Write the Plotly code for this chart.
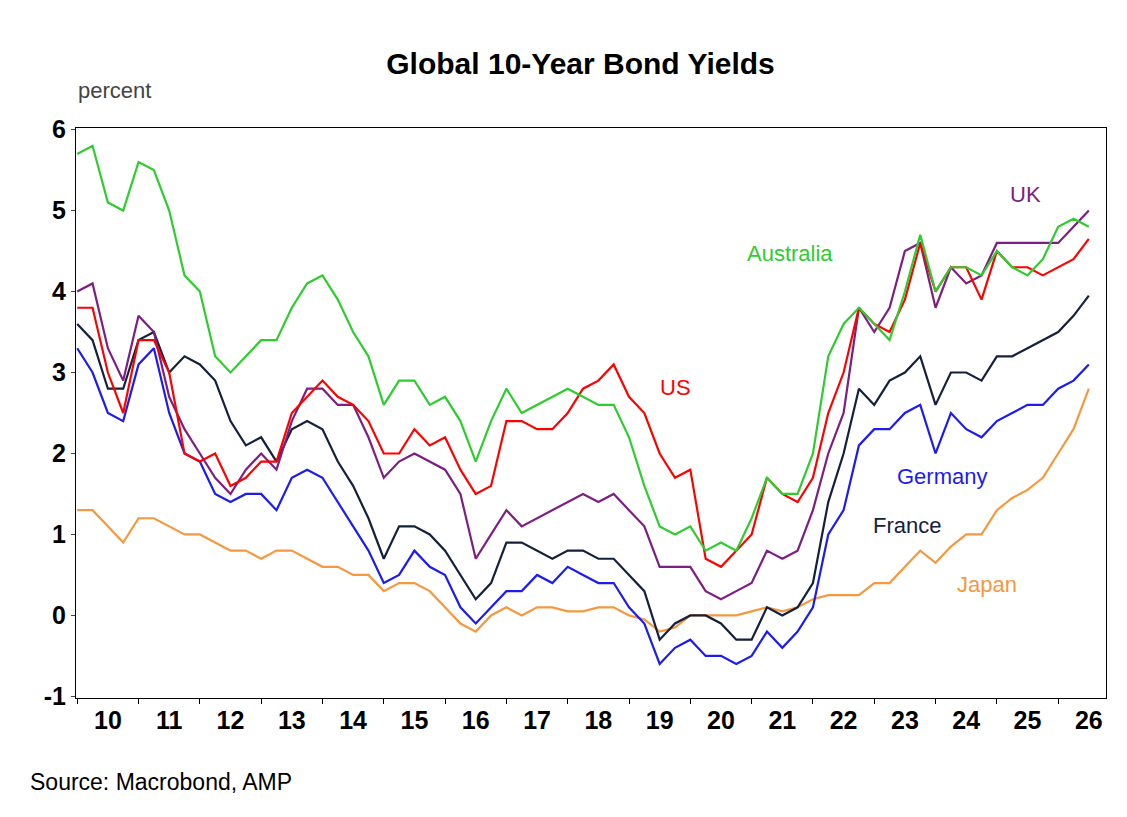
import plotly.graph_objects as go

# quarterly dates, 2010.0 .. 2026.5
dates = [2010 + 0.25 * i for i in range(67)]

australia = [5.7, 5.8, 5.1, 5.0, 5.6, 5.5, 5.0, 4.2, 4.0, 3.2, 3.0, 3.2, 3.4, 3.4, 3.8, 4.1,
             4.2, 3.9, 3.5, 3.2, 2.6, 2.9, 2.9, 2.6, 2.7, 2.4, 1.9, 2.4, 2.8, 2.5, 2.6, 2.7,
             2.8, 2.7, 2.6, 2.6, 2.2, 1.6, 1.1, 1.0, 1.1, 0.8, 0.9, 0.8, 1.2, 1.7, 1.5, 1.5,
             2.0, 3.2, 3.6, 3.8, 3.6, 3.4, 4.0, 4.7, 4.0, 4.3, 4.3, 4.2, 4.5, 4.3, 4.2, 4.4,
             4.8, 4.9, 4.8]
us = [3.8, 3.8, 3.0, 2.5, 3.4, 3.4, 3.0, 2.0, 1.9, 2.0, 1.6, 1.7, 1.9, 1.9, 2.5, 2.7,
      2.9, 2.7, 2.6, 2.4, 2.0, 2.0, 2.3, 2.1, 2.2, 1.8, 1.5, 1.6, 2.4, 2.4, 2.3, 2.3,
      2.5, 2.8, 2.9, 3.1, 2.7, 2.5, 2.0, 1.7, 1.8, 0.7, 0.6, 0.8, 1.0, 1.7, 1.5, 1.4,
      1.7, 2.5, 3.0, 3.8, 3.6, 3.5, 3.9, 4.6, 4.0, 4.3, 4.3, 3.9, 4.5, 4.3, 4.3, 4.2,
      4.3, 4.4, 4.65]
uk = [4.0, 4.1, 3.3, 2.9, 3.7, 3.5, 2.7, 2.3, 2.0, 1.7, 1.5, 1.8, 2.0, 1.8, 2.4, 2.8,
      2.8, 2.6, 2.6, 2.2, 1.7, 1.9, 2.0, 1.9, 1.8, 1.5, 0.7, 1.0, 1.3, 1.1, 1.2, 1.3,
      1.4, 1.5, 1.4, 1.5, 1.3, 1.1, 0.6, 0.6, 0.6, 0.3, 0.2, 0.3, 0.4, 0.8, 0.7, 0.8,
      1.3, 2.0, 2.5, 3.8, 3.5, 3.8, 4.5, 4.6, 3.8, 4.3, 4.1, 4.2, 4.6, 4.6, 4.6, 4.6,
      4.6, 4.8, 5.0]
france = [3.6, 3.4, 2.8, 2.8, 3.4, 3.5, 3.0, 3.2, 3.1, 2.9, 2.4, 2.1, 2.2, 1.9, 2.3, 2.4,
          2.3, 1.9, 1.6, 1.2, 0.7, 1.1, 1.1, 1.0, 0.8, 0.5, 0.2, 0.4, 0.9, 0.9, 0.8, 0.7,
          0.8, 0.8, 0.7, 0.7, 0.5, 0.3, -0.3, -0.1, 0.0, 0.0, -0.1, -0.3, -0.3, 0.1, 0.0, 0.1,
          0.4, 1.4, 2.0, 2.8, 2.6, 2.9, 3.0, 3.2, 2.6, 3.0, 3.0, 2.9, 3.2, 3.2, 3.3, 3.4,
          3.5, 3.7, 3.95]
germany = [3.3, 3.0, 2.5, 2.4, 3.1, 3.3, 2.5, 2.0, 1.9, 1.5, 1.4, 1.5, 1.5, 1.3, 1.7, 1.8,
           1.7, 1.4, 1.1, 0.8, 0.4, 0.5, 0.8, 0.6, 0.5, 0.1, -0.1, 0.1, 0.3, 0.3, 0.5, 0.4,
           0.6, 0.5, 0.4, 0.4, 0.1, -0.1, -0.6, -0.4, -0.3, -0.5, -0.5, -0.6, -0.5, -0.2, -0.4, -0.2,
           0.1, 1.0, 1.3, 2.1, 2.3, 2.3, 2.5, 2.6, 2.0, 2.5, 2.3, 2.2, 2.4, 2.5, 2.6, 2.6,
           2.8, 2.9, 3.1]
japan = [1.3, 1.3, 1.1, 0.9, 1.2, 1.2, 1.1, 1.0, 1.0, 0.9, 0.8, 0.8, 0.7, 0.8, 0.8, 0.7,
         0.6, 0.6, 0.5, 0.5, 0.3, 0.4, 0.4, 0.3, 0.1, -0.1, -0.2, 0.0, 0.1, 0.0, 0.1, 0.1,
         0.05, 0.05, 0.1, 0.1, 0.0, -0.05, -0.2, -0.15, 0.0, 0.0, 0.0, 0.0, 0.05, 0.1, 0.05, 0.1,
         0.2, 0.25, 0.25, 0.25, 0.4, 0.4, 0.6, 0.8, 0.65, 0.85, 1.0, 1.0, 1.3, 1.45, 1.55, 1.7,
         2.0, 2.3, 2.8]

series = [
    ("Japan", japan, "#f5983f", 2024.84, 0.38),
    ("Germany", germany, "#1c1cf0", 2024.1, 1.71),
    ("France", france, "#14213d", 2023.53, 1.11),
    ("UK", uk, "#7d1e82", 2025.46, 5.2),
    ("US", us, "#ff0000", 2019.76, 2.82),
    ("Australia", australia, "#2ecc2e", 2021.63, 4.47),
]

years = list(range(2010, 2027))
year_labels = [str(y)[2:] for y in years]

fig = go.Figure()
for name, vals, color, lx, ly in series:
    fig.add_trace(go.Scatter(x=dates, y=vals, mode="lines", name=name,
                             line=dict(color=color, width=2.2)))
    fig.add_annotation(x=lx, y=ly, text=name, showarrow=False,
                       font=dict(family="Arial", size=22, color=color))

fig.update_layout(
    width=1127, height=817, showlegend=False,
    paper_bgcolor="white", plot_bgcolor="white",
    margin=dict(l=68, r=29, t=120, b=127, autoexpand=False),
    title=dict(text="<b>Global 10-Year Bond Yields</b>", x=0.508, y=0.945,
               xanchor="center", font=dict(family="Arial", size=30, color="black")),
    font=dict(family="Arial", color="black"),
)
fig.update_xaxes(range=[2009.98, 2026.78], tickvals=[y + 0.5 for y in years],
                 ticktext=["<b>%s</b>" % t for t in year_labels], automargin=False,
                 tickfont=dict(size=25), ticks="", showgrid=False, zeroline=False,
                 showline=True, linecolor="black", linewidth=1, mirror=True,
                 minor=dict(tickvals=years, ticks="outside", ticklen=5, tickcolor="black"))
fig.update_yaxes(range=[-1.02, 6.02], tickvals=list(range(-1, 7)),
                 ticktext=["<b>%d</b>" % v for v in range(-1, 7)], automargin=False,
                 tickfont=dict(size=25), ticks="outside", ticklen=4, showgrid=False,
                 zeroline=False, showline=True, linecolor="black", linewidth=1, mirror=True)

fig.add_annotation(xref="paper", yref="paper", x=0.0, y=1.065, text="percent",
                   showarrow=False, xanchor="left", yanchor="middle",
                   font=dict(size=22, color="#444"))
fig.add_annotation(xref="paper", yref="paper", x=-0.047, y=-0.148, text="Source: Macrobond, AMP",
                   showarrow=False, xanchor="left", yanchor="middle",
                   font=dict(family="Liberation Sans", size=23, color="black"))

fig.write_html("out.html")
